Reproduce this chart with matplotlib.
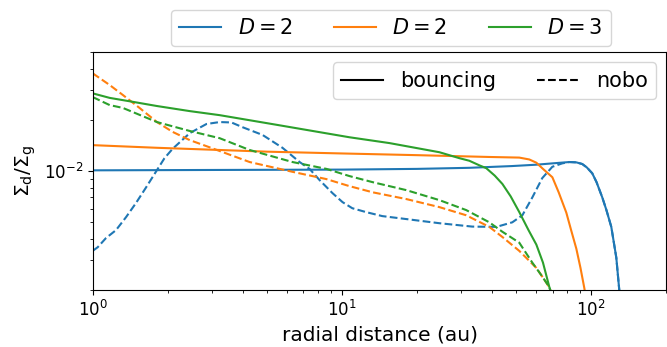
import numpy as np
import matplotlib.pyplot as plt

# radial distance (au) and dust-to-gas ratio
# blue, D = 2, bouncing
r_blue_b = [1.0, 3.0, 10.0, 20.0, 32.4, 48.0, 60.2, 70.0, 81.7, 87.1, 92.0, 96.0, 100.9, 105.0,
            110.7, 115.0, 120.3, 126.0, 129.5, 135.0]
sig_blue_b = [1.01e-2, 1.015e-2, 1.02e-2, 1.03e-2, 1.045e-2, 1.07e-2, 1.09e-2, 1.11e-2, 1.13e-2,
              1.125e-2, 1.10e-2, 1.05e-2, 9.7e-3, 8.6e-3, 7.0e-3, 5.9e-3, 4.7e-3, 3.1e-3, 2.0e-3, 1.0e-3]
# blue, D = 2, nobo
r_blue_n = [1.0, 1.047, 1.13, 1.24, 1.36, 1.49, 1.63, 1.79, 1.94, 2.09, 2.45, 2.86, 3.23, 3.6,
            3.99, 4.8, 5.77, 6.76, 7.41, 8.13, 9.16, 10.05, 11.0, 12.5, 14.5, 18.6, 24.6, 33.3,
            41.6, 48.2, 52.9, 58.0, 63.6, 69.8, 76.5, 81.7, 87.1, 92.0, 96.0, 100.9, 105.0, 110.7,
            115.0, 120.3, 126.0, 129.5, 135.0]
sig_blue_n = [3.4e-3, 3.57e-3, 4.04e-3, 4.5e-3, 5.36e-3, 6.48e-3, 7.94e-3, 9.87e-3, 1.19e-2,
              1.35e-2, 1.67e-2, 1.89e-2, 1.94e-2, 1.93e-2, 1.81e-2, 1.63e-2, 1.37e-2, 1.13e-2,
              1.03e-2, 8.85e-3, 7.42e-3, 6.57e-3, 6.05e-3, 5.74e-3, 5.44e-3, 5.2e-3, 4.94e-3,
              4.72e-3, 4.70e-3, 5.0e-3, 5.5e-3, 7.0e-3, 9.1e-3, 1.06e-2, 1.11e-2, 1.13e-2,
              1.125e-2, 1.10e-2, 1.05e-2, 9.7e-3, 8.6e-3, 7.0e-3, 5.9e-3, 4.7e-3, 3.1e-3, 2.0e-3,
              1.0e-3]
# orange, D = 2, bouncing
r_orange_b = [1.0, 1.81, 3.23, 5.0, 9.77, 20.0, 39.0, 51.4, 56.4, 60.2, 64.0, 69.8, 74.0, 79.4,
              83.0, 87.1, 90.5, 93.8, 97.0]
sig_orange_b = [1.42e-2, 1.37e-2, 1.33e-2, 1.30e-2, 1.27e-2, 1.24e-2, 1.21e-2, 1.20e-2, 1.17e-2,
                1.12e-2, 1.03e-2, 9.2e-3, 7.5e-3, 5.7e-3, 4.5e-3, 3.5e-3, 2.7e-3, 2.05e-3, 1.5e-3]
# orange, D = 2, nobo
r_orange_n = [1.0, 1.17, 1.32, 1.54, 1.81, 2.09, 2.45, 2.94, 4.26, 6.33, 8.66, 10.7, 13.3, 18.1,
              24.6, 31.5, 39.0, 44.0, 51.4, 60.2, 67.9, 72.0]
sig_orange_n = [3.75e-2, 3.2e-2, 2.8e-2, 2.35e-2, 1.94e-2, 1.70e-2, 1.52e-2, 1.38e-2, 1.13e-2,
                9.9e-3, 8.97e-3, 8.16e-3, 7.5e-3, 6.85e-3, 6.14e-3, 5.5e-3, 4.7e-3, 4.1e-3, 3.4e-3,
                2.7e-3, 2.08e-3, 1.6e-3]
# green, D = 3, bouncing
r_green_b = [1.0, 1.17, 1.45, 1.81, 2.45, 3.23, 5.46, 10.7, 15.5, 24.6, 29.6, 32.4, 35.6, 37.9,
             41.0, 44.0, 47.5, 51.4, 56.0, 60.2, 64.0, 67.9, 72.0]
sig_green_b = [2.86e-2, 2.69e-2, 2.55e-2, 2.41e-2, 2.25e-2, 2.13e-2, 1.87e-2, 1.58e-2, 1.46e-2,
               1.29e-2, 1.19e-2, 1.15e-2, 1.08e-2, 1.04e-2, 9.4e-3, 8.4e-3, 7.1e-3, 5.75e-3,
               4.5e-3, 3.7e-3, 2.9e-3, 2.08e-3, 1.5e-3]
# green, D = 3, nobo
r_green_n = [1.0, 1.17, 1.32, 1.81, 2.45, 3.23, 4.26, 6.33, 8.66, 10.7, 13.3, 18.1, 24.6, 31.5,
             39.0, 44.0, 51.4, 58.0, 63.0, 67.9, 72.0]
sig_green_n = [2.72e-2, 2.44e-2, 2.35e-2, 1.94e-2, 1.72e-2, 1.56e-2, 1.33e-2, 1.13e-2, 1.03e-2,
               9.35e-3, 8.6e-3, 7.73e-3, 6.75e-3, 5.9e-3, 5.0e-3, 4.4e-3, 3.8e-3, 2.9e-3, 2.45e-3,
               2.08e-3, 1.6e-3]

labels = [r'$D = 2$', r'$D = 2$', r'$D = 3$']
colors = ['C0', 'C1', 'C2']

fig, ax = plt.subplots(figsize=(6.67, 3.47), dpi=100)
fig.subplots_adjust(left=0.139, right=0.999, bottom=0.164, top=0.850)

h_blue, = ax.plot(r_blue_b, sig_blue_b, color=colors[0])
ax.plot(r_blue_n, sig_blue_n, color=colors[0], ls='--')
h_orange, = ax.plot(r_orange_b, sig_orange_b, color=colors[1])
ax.plot(r_orange_n, sig_orange_n, color=colors[1], ls='--')
h_green, = ax.plot(r_green_b, sig_green_b, color=colors[2])
ax.plot(r_green_n, sig_green_n, color=colors[2], ls='--')

ax.set_xscale('log')
ax.set_yscale('log')
ax.set_xlim(1, 200)
ax.set_ylim(2e-3, 5e-2)
ax.tick_params(labelsize=12)
ax.set_xlabel('radial distance (au)', fontsize=14.5)
ax.set_ylabel(r'$\Sigma_\mathrm{d}/\Sigma_\mathrm{g}$', fontsize=14.5)

# line-style legend inside the axes
ls_handles = [plt.Line2D([], [], color='k'), plt.Line2D([], [], color='k', ls='--')]
ax.legend(ls_handles, ['bouncing', 'nobo'], ncol=2, loc='upper right', fontsize=15)

# colour legend above the axes
fig.legend([h_blue, h_orange, h_green], labels, ncol=3, loc='center',
           bbox_to_anchor=(0.586, 0.919), fontsize=15)

fig.savefig('out.png', dpi=100)
